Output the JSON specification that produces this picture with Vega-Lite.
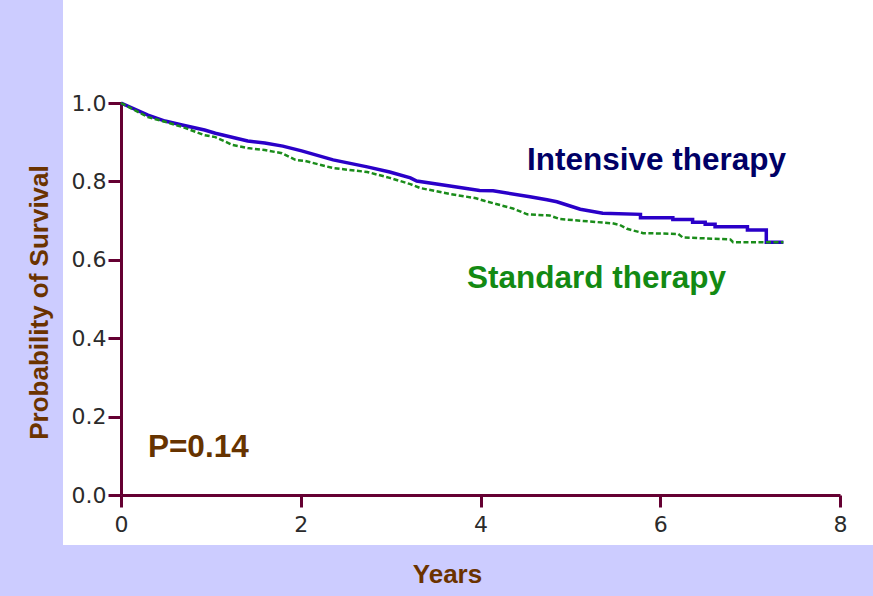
{
  "$schema": "https://vega.github.io/schema/vega-lite/v6.json",
  "width": 810,
  "height": 545,
  "autosize": {"type": "none"},
  "padding": {"left": 63, "top": 0, "right": 0, "bottom": 51},
  "background": "#ccccff",
  "config": {"view": {"fill": "white", "stroke": null}},
  "datasets": {
    "curves": [
      {"group": "Intensive therapy", "i": 1, "t": 0, "s": 1.0},
      {"group": "Intensive therapy", "i": 2, "t": 0.30, "s": 0.969},
      {"group": "Intensive therapy", "i": 3, "t": 0.49, "s": 0.954},
      {"group": "Intensive therapy", "i": 4, "t": 0.68, "s": 0.944},
      {"group": "Intensive therapy", "i": 5, "t": 0.93, "s": 0.931},
      {"group": "Intensive therapy", "i": 6, "t": 1.05, "s": 0.923},
      {"group": "Intensive therapy", "i": 7, "t": 1.41, "s": 0.903},
      {"group": "Intensive therapy", "i": 8, "t": 1.60, "s": 0.898},
      {"group": "Intensive therapy", "i": 9, "t": 1.80, "s": 0.890},
      {"group": "Intensive therapy", "i": 10, "t": 2.01, "s": 0.878},
      {"group": "Intensive therapy", "i": 11, "t": 2.36, "s": 0.855},
      {"group": "Intensive therapy", "i": 12, "t": 2.74, "s": 0.837},
      {"group": "Intensive therapy", "i": 13, "t": 2.99, "s": 0.824},
      {"group": "Intensive therapy", "i": 14, "t": 3.22, "s": 0.809},
      {"group": "Intensive therapy", "i": 15, "t": 3.29, "s": 0.801},
      {"group": "Intensive therapy", "i": 16, "t": 3.66, "s": 0.788},
      {"group": "Intensive therapy", "i": 17, "t": 3.99, "s": 0.777},
      {"group": "Intensive therapy", "i": 18, "t": 4.14, "s": 0.776},
      {"group": "Intensive therapy", "i": 19, "t": 4.55, "s": 0.761},
      {"group": "Intensive therapy", "i": 20, "t": 4.74, "s": 0.753},
      {"group": "Intensive therapy", "i": 21, "t": 4.85, "s": 0.748},
      {"group": "Intensive therapy", "i": 22, "t": 5.11, "s": 0.729},
      {"group": "Intensive therapy", "i": 23, "t": 5.36, "s": 0.719},
      {"group": "Intensive therapy", "i": 24, "t": 5.78, "s": 0.716},
      {"group": "Intensive therapy", "i": 25, "t": 5.78, "s": 0.707},
      {"group": "Intensive therapy", "i": 26, "t": 6.14, "s": 0.707},
      {"group": "Intensive therapy", "i": 27, "t": 6.14, "s": 0.703},
      {"group": "Intensive therapy", "i": 28, "t": 6.36, "s": 0.703},
      {"group": "Intensive therapy", "i": 29, "t": 6.36, "s": 0.696},
      {"group": "Intensive therapy", "i": 30, "t": 6.50, "s": 0.696},
      {"group": "Intensive therapy", "i": 31, "t": 6.50, "s": 0.691},
      {"group": "Intensive therapy", "i": 32, "t": 6.61, "s": 0.691},
      {"group": "Intensive therapy", "i": 33, "t": 6.61, "s": 0.684},
      {"group": "Intensive therapy", "i": 34, "t": 6.97, "s": 0.684},
      {"group": "Intensive therapy", "i": 35, "t": 6.97, "s": 0.676},
      {"group": "Intensive therapy", "i": 36, "t": 7.18, "s": 0.676},
      {"group": "Intensive therapy", "i": 37, "t": 7.18, "s": 0.645},
      {"group": "Intensive therapy", "i": 38, "t": 7.37, "s": 0.645},
      {"group": "Standard therapy", "i": 1, "t": 0, "s": 1.0},
      {"group": "Standard therapy", "i": 2, "t": 0.30, "s": 0.964},
      {"group": "Standard therapy", "i": 3, "t": 0.49, "s": 0.952},
      {"group": "Standard therapy", "i": 4, "t": 0.68, "s": 0.939},
      {"group": "Standard therapy", "i": 5, "t": 0.93, "s": 0.918},
      {"group": "Standard therapy", "i": 6, "t": 1.05, "s": 0.913},
      {"group": "Standard therapy", "i": 7, "t": 1.24, "s": 0.893},
      {"group": "Standard therapy", "i": 8, "t": 1.41, "s": 0.885},
      {"group": "Standard therapy", "i": 9, "t": 1.60, "s": 0.880},
      {"group": "Standard therapy", "i": 10, "t": 1.79, "s": 0.872},
      {"group": "Standard therapy", "i": 11, "t": 1.94, "s": 0.855},
      {"group": "Standard therapy", "i": 12, "t": 2.05, "s": 0.852},
      {"group": "Standard therapy", "i": 13, "t": 2.36, "s": 0.834},
      {"group": "Standard therapy", "i": 14, "t": 2.74, "s": 0.824},
      {"group": "Standard therapy", "i": 15, "t": 2.99, "s": 0.809},
      {"group": "Standard therapy", "i": 16, "t": 3.22, "s": 0.793},
      {"group": "Standard therapy", "i": 17, "t": 3.33, "s": 0.783},
      {"group": "Standard therapy", "i": 18, "t": 3.66, "s": 0.768},
      {"group": "Standard therapy", "i": 19, "t": 3.95, "s": 0.757},
      {"group": "Standard therapy", "i": 20, "t": 4.05, "s": 0.750},
      {"group": "Standard therapy", "i": 21, "t": 4.36, "s": 0.731},
      {"group": "Standard therapy", "i": 22, "t": 4.52, "s": 0.716},
      {"group": "Standard therapy", "i": 23, "t": 4.77, "s": 0.713},
      {"group": "Standard therapy", "i": 24, "t": 4.88, "s": 0.704},
      {"group": "Standard therapy", "i": 25, "t": 5.47, "s": 0.693},
      {"group": "Standard therapy", "i": 26, "t": 5.55, "s": 0.689},
      {"group": "Standard therapy", "i": 27, "t": 5.63, "s": 0.679},
      {"group": "Standard therapy", "i": 28, "t": 5.81, "s": 0.668},
      {"group": "Standard therapy", "i": 29, "t": 6.20, "s": 0.666},
      {"group": "Standard therapy", "i": 30, "t": 6.25, "s": 0.657},
      {"group": "Standard therapy", "i": 31, "t": 6.78, "s": 0.652},
      {"group": "Standard therapy", "i": 32, "t": 6.81, "s": 0.645},
      {"group": "Standard therapy", "i": 33, "t": 7.37, "s": 0.645}
    ],
    "labels": [
      {"label": "Intensive therapy", "t": 4.517, "s": 0.829},
      {"label": "Standard therapy", "t": 3.85, "s": 0.528},
      {"label": "P=0.14", "t": 0.30, "s": 0.097}
    ]
  },
  "layer": [
    {
      "data": {"name": "curves"},
      "transform": [{"filter": "datum.group === 'Intensive therapy'"}],
      "mark": {"type": "line", "color": "#2a00c8", "strokeWidth": 3.5, "interpolate": "linear"},
      "encoding": {
        "x": {
          "field": "t", "type": "quantitative",
          "scale": {"domain": [0, 8], "range": [58, 777], "nice": false, "zero": false},
          "axis": {
            "values": [0, 2, 4, 6, 8], "format": "d", "offset": -50,
            "domainColor": "#650032", "domainWidth": 3,
            "tickColor": "#650032", "tickWidth": 3, "tickSize": 12,
            "labelFont": "DejaVu Sans", "labelFontSize": 22, "labelColor": "#2b2b2b", "labelPadding": 7,
            "labelFlush": false, "grid": false,
            "title": "Years", "titleFont": "Liberation Sans", "titleFontSize": 26, "titleFontWeight": "bold",
            "titleColor": "#6b3300", "titleX": 384, "titleY": 87, "titleBaseline": "alphabetic", "titleAlign": "center"
          }
        },
        "y": {
          "field": "s", "type": "quantitative",
          "scale": {"domain": [0, 1], "range": [495, 103], "nice": false, "zero": false},
          "axis": {
            "values": [0, 0.2, 0.4, 0.6, 0.8, 1.0], "format": ".1f", "offset": -58,
            "domainColor": "#650032", "domainWidth": 3,
            "tickColor": "#650032", "tickWidth": 3, "tickSize": 13,
            "labelFont": "DejaVu Sans", "labelFontSize": 22, "labelColor": "#2b2b2b", "labelPadding": 2,
            "labelFlush": false, "grid": false,
            "title": "Probability of Survival", "titleFont": "Liberation Sans", "titleFontSize": 26, "titleFontWeight": "bold",
            "titleColor": "#6b3300", "titleAngle": -90, "titleX": -74, "titleY": 302, "titleBaseline": "alphabetic", "titleAlign": "center"
          }
        },
        "order": {"field": "i", "type": "quantitative"}
      }
    },
    {
      "data": {"name": "curves"},
      "transform": [{"filter": "datum.group === 'Standard therapy'"}],
      "mark": {"type": "line", "color": "#1a8c1a", "strokeWidth": 2.5, "strokeDash": [5, 2.5], "interpolate": "linear"},
      "encoding": {
        "x": {"field": "t", "type": "quantitative"},
        "y": {"field": "s", "type": "quantitative"},
        "order": {"field": "i", "type": "quantitative"}
      }
    },
    {
      "data": {"name": "labels"},
      "mark": {"type": "text", "align": "left", "baseline": "alphabetic", "font": "Liberation Sans", "fontWeight": "bold", "fontSize": 31.5},
      "encoding": {
        "x": {"field": "t", "type": "quantitative"},
        "y": {"field": "s", "type": "quantitative"},
        "text": {"field": "label"},
        "color": {
          "field": "label", "type": "nominal",
          "scale": {"domain": ["Intensive therapy", "Standard therapy", "P=0.14"], "range": ["#000066", "#138a13", "#663300"]},
          "legend": null
        }
      }
    }
  ]
}
